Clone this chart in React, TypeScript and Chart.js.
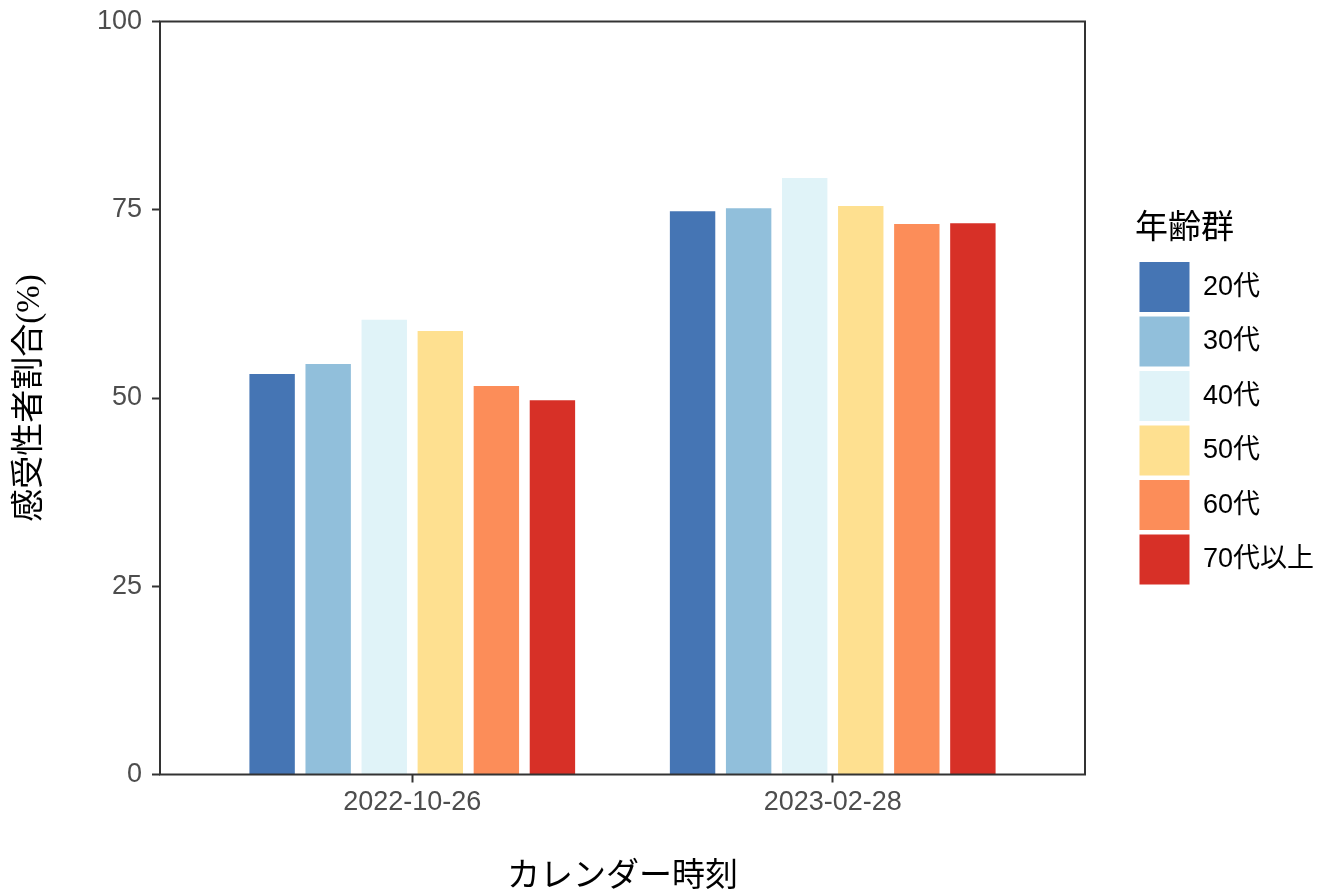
import React, { useEffect, useRef } from "react";
import { Chart, registerables } from "chart.js";

Chart.register(...registerables);

// ---- data ----
const dates = ["2022-10-26", "2023-02-28"];
const ageGroups = ["20代", "30代", "40代", "50代", "60代", "70代以上"];
const values20221026 = [53.2, 54.5, 60.4, 58.9, 51.6, 49.7];
const values20230228 = [74.8, 75.2, 79.2, 75.5, 73.1, 73.2];
const groupColors = ["#4575B4", "#91BFDB", "#E0F3F8", "#FEE090", "#FC8D59", "#D73027"];
const yTicks = [0, 25, 50, 75, 100];
const xTickPositions = [0, 1];
const yTitle = "感受性者割合(%)";
const xTitle = "カレンダー時刻";
const legendTitle = "年齢群";

const valuesByDate = [values20221026, values20230228];

const SANS = '"Liberation Sans", Arial, "Noto Sans CJK JP", sans-serif';
const SERIF = '"Liberation Serif", "Times New Roman", "Noto Sans CJK JP", serif';

const framePlugin = {
  id: "framePlugin",
  beforeUpdate(chart: any) {
    const lg = chart.legend;
    if (lg && !lg.__patched) {
      const orig = lg.fit;
      lg.fit = function () {
        orig.call(this);
        this.width = 243;
      };
      lg.__patched = true;
    }
  },
  afterLayout(chart: any) {
    const lg = chart.legend;
    if (lg) {
      lg.left = chart.chartArea.right + 50;
      lg.right = lg.left + 193;
    }
  },
  afterDatasetsDraw(chart: any) {
    const { left, top, right, bottom } = chart.chartArea;
    const ctx = chart.ctx;
    ctx.save();
    ctx.strokeStyle = "#333333";
    ctx.lineWidth = 2;
    ctx.strokeRect(left, top, right - left, bottom - top);
    ctx.restore();
  },
};

export default function App() {
  const canvasRef = useRef<HTMLCanvasElement | null>(null);

  useEffect(() => {
    if (!canvasRef.current) return;
    const datasets = ageGroups.map((g, gi) => ({
      label: g,
      data: dates.map((_, di) => ({ x: xTickPositions[di], y: valuesByDate[di][gi] })),
      backgroundColor: groupColors[gi],
      borderWidth: 0,
      categoryPercentage: 0.8,
      barPercentage: 0.81,
    }));

    const chart = new Chart(canvasRef.current, {
      type: "bar",
      data: { datasets },
      options: {
        animation: false,
        responsive: false,
        devicePixelRatio: 1,
        layout: { padding: { top: 21.5, left: 0, right: 0, bottom: 0 } },
        plugins: {
          tooltip: { enabled: false },
          legend: {
            display: true,
            position: "right",
            fullSize: false,
            align: "center",
            title: {
              display: true,
              text: legendTitle,
              position: "start",
              color: "#000000",
              font: { family: SERIF, size: 33, lineHeight: 1.2 },
              padding: { top: 6, bottom: 5 },
            },
            labels: {
              boxWidth: 50,
              boxHeight: 50,
              padding: 4.5,
              color: "#000000",
              font: { family: SANS, size: 27 },
            },
          },
        },
        scales: {
          x: {
            type: "linear",
            min: -0.6,
            max: 1.6,
            offset: false,
            afterBuildTicks: (scale: any) => {
              scale.ticks = xTickPositions.map((v) => ({ value: v }));
            },
            afterFit: (scale: any) => {
              scale.height = 119.5;
              scale.paddingLeft = 0;
              scale.paddingRight = 0;
            },
            grid: {
              display: true,
              offset: false,
              drawOnChartArea: false,
              drawTicks: true,
              tickLength: 8,
              tickColor: "#333333",
              tickWidth: 2,
            },
            border: { display: false },
            ticks: {
              autoSkip: false,
              maxRotation: 0,
              padding: 4,
              color: "#4D4D4D",
              font: { family: SANS, size: 27 },
              callback: (value: any) => {
                const i = xTickPositions.indexOf(Number(value));
                return i >= 0 ? dates[i] : "";
              },
            },
            title: {
              display: true,
              text: xTitle,
              color: "#000000",
              font: { family: SERIF, size: 33, lineHeight: 1 },
              padding: { top: 0, bottom: 0 },
            },
          },
          y: {
            type: "linear",
            min: 0,
            max: 100,
            afterBuildTicks: (scale: any) => {
              scale.ticks = yTicks.map((v) => ({ value: v }));
            },
            afterFit: (scale: any) => {
              scale.width = 160;
              scale.paddingTop = 0;
              scale.paddingBottom = 0;
            },
            grid: {
              display: true,
              drawOnChartArea: false,
              drawTicks: true,
              tickLength: 8,
              tickColor: "#333333",
              tickWidth: 2,
            },
            border: { display: false },
            ticks: {
              padding: 10,
              color: "#4D4D4D",
              font: { family: SANS, size: 27 },
            },
            title: {
              display: true,
              text: yTitle,
              color: "#000000",
              font: { family: SERIF, size: 33, lineHeight: 1 },
              padding: { top: 13.5, bottom: 0 },
            },
          },
        },
      },
      plugins: [framePlugin],
    } as any);

    return () => {
      chart.destroy();
    };
  }, []);

  return (
    <div
      style={{
        position: "fixed",
        left: 0,
        top: 0,
        width: 1328,
        height: 894,
        background: "#ffffff",
      }}
    >
      <canvas ref={canvasRef} width={1328} height={894} />
    </div>
  );
}
